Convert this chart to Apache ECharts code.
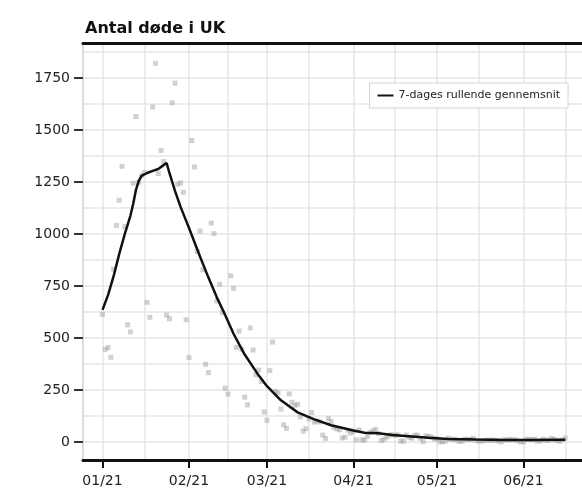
<!DOCTYPE html>
<html>
<head>
<meta charset="utf-8">
<script src="https://cdn.jsdelivr.net/npm/echarts@6/dist/echarts.min.js"></script>
<style>
html,body{margin:0;padding:0;background:#fff;}
#chart{width:582px;height:493px;}
</style>
</head>
<body>
<div id="chart"></div>
<script>
// daily reported deaths, one value per day from startDate
const startDate = "2021-01-01";
const dailyDeaths = [
    // jan
    613, 445, 454, 407, 830, 1041, 1162, 1325, 1035, 563, 529, 1243, 1564, 1248, 1280, 1295,
    671, 599, 1610, 1820, 1290, 1401, 1348, 610, 592, 1631, 1725, 1239, 1245, 1200, 587,
    // feb
    406, 1449, 1322, 915, 1014, 828, 373, 333, 1052, 1001, 678, 758, 621, 258, 230, 799,
    738, 454, 533, 445, 215, 178, 548, 442, 323, 345, 290, 144,
    // mar
    104, 343, 480, 242, 236, 158, 82, 65, 231, 190, 175, 181, 121, 52, 64, 110,
    141, 95, 101, 96, 33, 17, 112, 98, 70, 63, 58, 19, 23, 56, 43,
    // apr
    51, 10, 58, 10, 9, 26, 45, 53, 60, 40, 7, 13, 23, 33, 34, 32,
    34, 4, 4, 33, 22, 18, 32, 32, 17, 1, 29, 27, 22, 15,
    // may
    15, 1, 1, 4, 18, 13, 13, 10, 2, 4, 13, 11, 11, 17, 7, 4,
    4, 7, 9, 7, 10, 7, 6, 0, 10, 9, 11, 10, 10, 6, 0,
    // jun
    0, 12, 12, 11, 13, 4, 5, 13, 9, 7, 17, 12, 7, 3, 9, 19
];

// rolling average line
const avgDates = [
    "2021-01-01", "2021-01-03", "2021-01-05", "2021-01-07", "2021-01-09", "2021-01-11",
    "2021-01-12", "2021-01-13", "2021-01-14", "2021-01-15", "2021-01-17", "2021-01-19",
    "2021-01-21", "2021-01-23", "2021-01-24", "2021-01-25", "2021-01-27", "2021-01-29",
    "2021-02-01", "2021-02-05", "2021-02-08", "2021-02-11", "2021-02-14", "2021-02-17",
    "2021-02-21", "2021-02-26", "2021-03-01", "2021-03-06", "2021-03-12", "2021-03-18",
    "2021-03-24", "2021-04-01", "2021-04-05", "2021-04-10", "2021-04-15", "2021-04-22",
    "2021-04-28", "2021-05-05", "2021-05-15", "2021-05-25", "2021-06-05", "2021-06-16"
];
const avgValues = [
    635, 707, 798, 904, 1000, 1087,
    1144, 1212, 1255, 1279, 1293, 1303,
    1312, 1332, 1341, 1293, 1207, 1130,
    1030, 890, 790, 695, 610, 520,
    420, 320, 268, 200, 142, 108,
    80, 55, 44, 42, 33, 26,
    20, 14, 11, 9, 9, 10
];

const monthTicks = ["2021-01-01", "2021-02-01", "2021-03-01", "2021-04-01", "2021-05-01", "2021-06-01"];
const gridDates = [
    "2021-01-01", "2021-01-16", "2021-02-01", "2021-02-15", "2021-03-01", "2021-03-16",
    "2021-04-01", "2021-04-16", "2021-05-01", "2021-05-16", "2021-06-01", "2021-06-16"
];
const yTicks = [0, 250, 500, 750, 1000, 1250, 1500, 1750];
const yGrid = [0, 125, 250, 375, 500, 625, 750, 875, 1000, 1125, 1250, 1375, 1500, 1625, 1750, 1875];

const seriesName = "7-dages rullende gennemsnit";
const titleText = "Antal døde i UK";

function toTime(s){
    const p = s.split("-").map(Number);
    return new Date(p[0], p[1] - 1, p[2]).getTime();
}

function pad(n){
    return (n < 10 ? "0" : "") + n;
}

const start = toTime(startDate);
const dailyPoints = dailyDeaths.map((v, i) => {
    const d = new Date(start);
    d.setDate(d.getDate() + i);
    return [d.getTime(), v];
});
const avgPoints = avgDates.map((d, i) => [toTime(d), avgValues[i]]);

const xMin = toTime("2020-12-25");
const xMax = toTime("2021-06-22");

const chart = echarts.init(document.getElementById("chart"));

chart.setOption({
    animation: false,
    textStyle: {fontFamily: "DejaVu Sans"},
    title: {
        text: titleText,
        left: 80,
        top: 16,
        textStyle: {fontSize: 16, fontWeight: "bold", color: "#111", fontFamily: "DejaVu Sans"}
    },
    legend: {
        data: [{name: seriesName, icon: "rect"}],
        top: 83,
        right: 14,
        padding: [7, 8],
        itemWidth: 16,
        itemHeight: 2,
        itemStyle: {color: "#111"},
        borderColor: "#d4d4d4",
        borderWidth: 1,
        backgroundColor: "#fff",
        textStyle: {fontSize: 11, color: "#222"}
    },
    grid: {left: 83, right: 0, top: 43, bottom: 33},
    xAxis: [
        {
            type: "value",
            position: "bottom",
            min: xMin,
            max: xMax,
            axisLine: {show: true, onZero: false, lineStyle: {color: "#111", width: 3}},
            axisTick: {
                show: true,
                length: 8,
                lineStyle: {color: "#111", width: 2},
                customValues: monthTicks.map(toTime)
            },
            axisLabel: {
                fontSize: 14,
                color: "#222",
                margin: 14,
                customValues: monthTicks.map(toTime),
                formatter: v => {
                    const d = new Date(v);
                    return pad(d.getMonth() + 1) + "/" + String(d.getFullYear()).slice(2);
                }
            },
            splitLine: {show: false}
        },
        {
            type: "value",
            position: "top",
            min: xMin,
            max: xMax,
            axisLine: {show: true, onZero: false, lineStyle: {color: "#111", width: 3}},
            axisTick: {show: false, customValues: gridDates.map(toTime)},
            axisLabel: {show: false},
            splitLine: {show: true, lineStyle: {color: "#e6e6e6", width: 1.5}}
        }
    ],
    yAxis: [
        {
            type: "value",
            min: -87,
            max: 1918,
            axisLine: {show: true, onZero: false, lineStyle: {color: "#dcdcdc", width: 2}},
            axisTick: {
                show: true,
                length: 9,
                lineStyle: {color: "#333", width: 2},
                customValues: yTicks
            },
            axisLabel: {
                fontSize: 14,
                color: "#222",
                margin: 13,
                customValues: yTicks,
                formatter: v => String(v)
            },
            splitLine: {show: false}
        },
        {
            type: "value",
            position: "right",
            min: -87,
            max: 1918,
            axisLine: {show: false},
            axisTick: {show: false, customValues: yGrid},
            axisLabel: {show: false},
            splitLine: {show: true, lineStyle: {color: "#e6e6e6", width: 1.5}}
        }
    ],
    series: [
        {
            name: "Daglige dødsfald",
            type: "scatter",
            symbol: "rect",
            symbolSize: 5,
            itemStyle: {color: "#9a9a90", opacity: 0.45},
            z: 2,
            data: dailyPoints
        },
        {
            name: seriesName,
            type: "line",
            symbol: "none",
            color: "#111",
            lineStyle: {color: "#111", width: 2.5},
            z: 3,
            data: avgPoints
        }
    ]
});

window.addEventListener("resize", () => chart.resize());
</script>
</body>
</html>
